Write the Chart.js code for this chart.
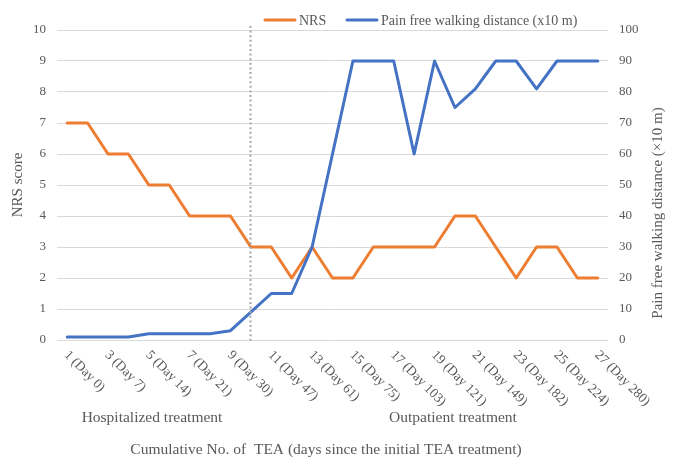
<!DOCTYPE html>
<html>
<head>
<meta charset="utf-8">
<script src="https://cdn.jsdelivr.net/npm/chart.js@4/dist/chart.umd.min.js"></script>
<style>
  html, body { margin: 0; padding: 0; background: #ffffff; }
  #wrap { width: 676px; height: 461px; position: relative; }
</style>
</head>
<body>
<div id="wrap"><canvas id="c" width="676" height="461"></canvas></div>
<script>
// ---- data ----
const tickLabels = ['1 (Day 0)','2','3 (Day 7)','4','5 (Day 14)','6','7 (Day 21)','8','9 (Day 30)','10',
  '11 (Day 47)','12','13 (Day 61)','14','15 (Day 75)','16','17 (Day 103)','18','19 (Day 121)','20',
  '21 (Day 149)','22','23 (Day 182)','24','25 (Day 224)','26','27 (Day 280)'];
const nrsValues = [7,7,6,6,5,5,4,4,4,3,3,2,3,2,2,3,3,3,3,4,4,3,2,3,3,2,2];
const walkValues = [1,1,1,1,2,2,2,2,3,9,15,15,30,60,90,90,90,60,90,75,81,90,90,81,90,90,90];
const seriesNames = ['NRS', 'Pain free walking distance (x10 m)'];
const leftTitle = 'NRS score';
const rightTitle = 'Pain free walking distance (\u00d710 m)';
const xTitle = 'Cumulative No. of  TEA (days since the initial TEA treatment)';
const phaseLabels = ['Hospitalized treatment', 'Outpatient treatment'];
const phaseSplitIndex = 9;

const ORANGE = '#ED7D31';
const BLUE = '#4472C4';
const TXT = '#595959';
const SERIF = '"Liberation Serif", "Times New Roman", serif';

const extras = {
  id: 'extras',
  afterDatasetsDraw(chart) {
    const ctx = chart.ctx;
    const xs = chart.scales.x;
    const area = chart.chartArea;
    ctx.save();
    // dotted divider
    const dx = Math.round(xs.getPixelForValue(phaseSplitIndex)) - 0.5;
    ctx.strokeStyle = '#A6A6A6';
    ctx.lineWidth = 2;
    ctx.setLineDash([2, 2.6]);
    ctx.beginPath();
    ctx.moveTo(dx, area.top - 4);
    ctx.lineTo(dx, area.bottom + 3);
    ctx.stroke();
    ctx.setLineDash([]);
    ctx.restore();
  },
  afterDraw(chart) {
    const ctx = chart.ctx;
    const xs = chart.scales.x;
    const area = chart.chartArea;
    ctx.save();
    ctx.fillStyle = TXT;
    // x tick labels, rotated 45deg clockwise
    ctx.font = '13.5px ' + SERIF;
    ctx.textAlign = 'left';
    ctx.textBaseline = 'middle';
    tickLabels.forEach((lab, i) => {
      if (i % 2 !== 0) return;
      const x = xs.getPixelForValue(i);
      ctx.save();
      ctx.translate(x - 1, area.bottom + 13);
      ctx.rotate(Math.PI / 4);
      ctx.fillText(lab, 0, 0);
      ctx.restore();
    });
    // phase labels
    ctx.font = '15.5px ' + SERIF;
    ctx.textAlign = 'center';
    ctx.fillText(phaseLabels[0], 152, 418);
    ctx.fillText(phaseLabels[1], 453, 418);
    // x title
    ctx.fillText(xTitle, 326, 450);
    // right axis title
    ctx.font = '15px ' + SERIF;
    ctx.save();
    ctx.translate(658, 213);
    ctx.rotate(-Math.PI / 2);
    ctx.fillText(rightTitle, 0, 0);
    ctx.restore();
    // legend
    ctx.font = '14px ' + SERIF;
    ctx.textAlign = 'left';
    ctx.lineWidth = 3;
    ctx.lineCap = 'round';
    const ly = 20;
    const items = [[265, ORANGE, seriesNames[0]], [347, BLUE, seriesNames[1]]];
    items.forEach(([lx, col, name]) => {
      ctx.strokeStyle = col;
      ctx.beginPath();
      ctx.moveTo(lx, ly);
      ctx.lineTo(lx + 30, ly);
      ctx.stroke();
      ctx.fillText(name, lx + 34, ly + 1);
    });
    ctx.restore();
  }
};

new Chart(document.getElementById('c'), {
  type: 'line',
  data: {
    labels: tickLabels,
    datasets: [
      { label: seriesNames[0], data: nrsValues, yAxisID: 'y', borderColor: ORANGE, backgroundColor: ORANGE,
        borderWidth: 3, pointRadius: 0, tension: 0, borderJoinStyle: 'round', borderCapStyle: 'round', order: 2 },
      { label: seriesNames[1], data: walkValues, yAxisID: 'y2', borderColor: BLUE, backgroundColor: BLUE,
        borderWidth: 3, pointRadius: 0, tension: 0, borderJoinStyle: 'round', borderCapStyle: 'round', order: 1 }
    ]
  },
  options: {
    responsive: false,
    animation: false,
    events: [],
    layout: { padding: { top: 30, bottom: 0, left: 0, right: 0 } },
    plugins: { legend: { display: false }, tooltip: { enabled: false } },
    scales: {
      x: {
        type: 'category',
        offset: true,
        grid: { display: false },
        border: { display: false },
        ticks: { display: false },
        afterFit(s) { s.height = 121; }
      },
      y: {
        position: 'left',
        min: 0, max: 10,
        ticks: { stepSize: 1, color: TXT, font: { family: SERIF, size: 13 }, padding: 11 },
        grid: { color: '#D9D9D9', lineWidth: 1, drawTicks: false },
        border: { display: false },
        title: { display: true, text: leftTitle, color: TXT, font: { family: SERIF, size: 15 }, padding: { top: 9, bottom: 0 } },
        afterFit(s) { s.width = 57; }
      },
      y2: {
        position: 'right',
        min: 0, max: 100,
        ticks: { stepSize: 10, color: TXT, font: { family: SERIF, size: 13 }, padding: 11 },
        grid: { drawOnChartArea: false, drawTicks: false },
        border: { display: false },
        afterFit(s) { s.width = 68; }
      }
    }
  },
  plugins: [extras]
});
</script>
</body>
</html>
